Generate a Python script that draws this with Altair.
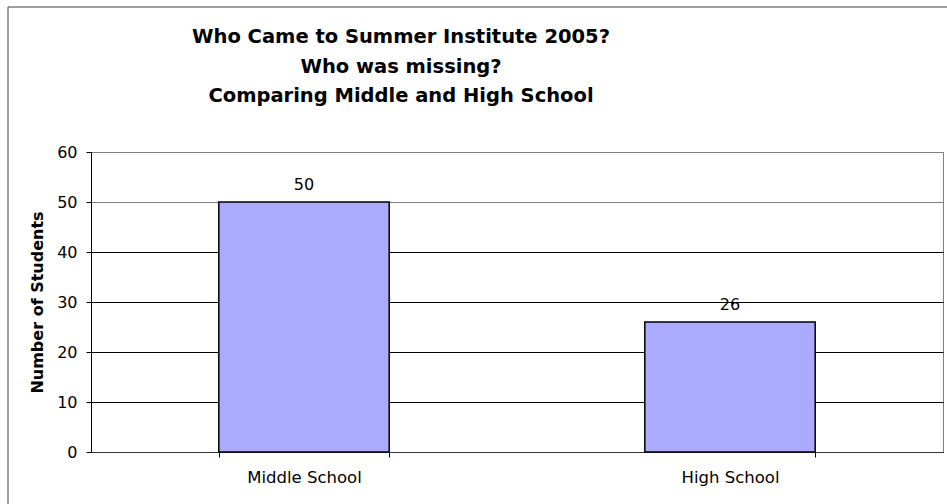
import altair as alt
import pandas as pd

categories = ["Middle School", "High School"]
students = [50, 26]

title_lines = ["Who Came to Summer Institute 2005?", "Who was missing?", "Comparing Middle and High School"]
y_title = "Number of Students"

df = pd.DataFrame({"school": categories, "students": students})

FONT = "DejaVu Sans"

x_enc = alt.X(
    "school:N",
    sort=categories,
    scale=alt.Scale(paddingInner=0.6, paddingOuter=0.3),
    axis=alt.Axis(
        title=None, labelAngle=0, labelFont=FONT, labelFontSize=16.5, labelColor="#000000",
        tickBand="extent", tickSize=5, tickColor="#000000", domainColor="#333333",
        labelPadding=12, grid=False,
    ),
)
y_enc = alt.Y(
    "students:Q",
    scale=alt.Scale(domain=[0, 60]),
    axis=alt.Axis(
        title=y_title, values=[0, 10, 20, 30, 40, 50, 60], labelFont=FONT, labelFontSize=16,
        labelColor="#000000", titleFont=FONT, titleFontSize=16, titleFontWeight="bold",
        titleColor="#000000", tickSize=5, tickColor="#000000", domainColor="#000000",
        labelPadding=9, titlePadding=11,
        grid=True,
        gridColor=alt.condition("datum.value >= 50", alt.value("#808080"), alt.value("#000000")),
        gridWidth=1,
    ),
)

bars = alt.Chart(df).mark_bar(color="#AAAAFF", stroke="#000000", strokeWidth=1.5).encode(
    x=x_enc, y=y_enc
)

labels = alt.Chart(df).mark_text(
    font=FONT, fontSize=16, color="#000000", baseline="alphabetic", dy=-12
).encode(x=alt.X("school:N", sort=categories), y="students:Q", text="students:Q")

title = alt.Chart(pd.DataFrame({"k": [0]})).mark_text(
    text=title_lines, font=FONT, fontSize=19.5, fontWeight="bold", color="#000000",
    align="center", baseline="alphabetic", lineHeight=29.5,
).encode(x=alt.value(401 - 91), y=alt.value(43 - 152))

border = alt.Chart(pd.DataFrame({"k": [0]})).mark_rect(
    fill=None, stroke="#404040", strokeWidth=1
).encode(x=alt.value(-83), x2=alt.value(900), y=alt.value(-145), y2=alt.value(420))

chart = alt.layer(border, bars, labels, title).properties(
    width=852,
    height=300,
    autosize=alt.AutoSizeParams(type="none"),
    padding={"left": 91, "top": 152, "right": 4, "bottom": 52},
).configure_view(stroke="#808080", strokeWidth=1)

chart.save("out.html", embed_options={"renderer": "svg", "actions": False})
